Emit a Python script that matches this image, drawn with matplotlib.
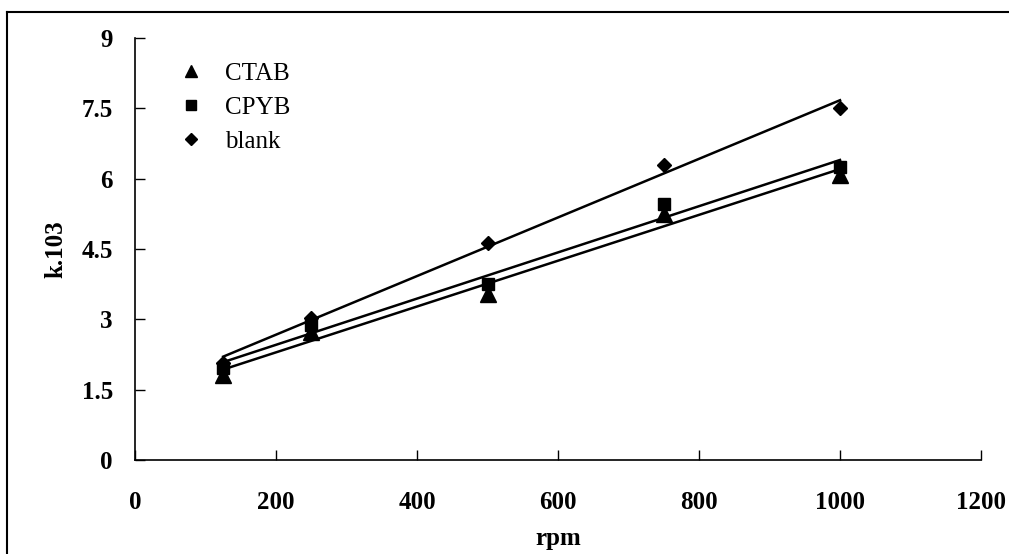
import numpy as np
import matplotlib
matplotlib.use("Agg")
import matplotlib.pyplot as plt
from matplotlib.lines import Line2D

rpm = [125, 250, 500, 750, 1000]
ctab = [1.82, 2.72, 3.55, 5.25, 6.08]
cpyb = [1.96, 2.88, 3.75, 5.45, 6.25]
blank = [2.07, 3.03, 4.62, 6.30, 7.50]

series = [("CTAB", ctab, "^", 11), ("CPYB", cpyb, "s", 8.5), ("blank", blank, "D", 7.5)]

xticks = [0, 200, 400, 600, 800, 1000, 1200]
yticks = [0, 1.5, 3, 4.5, 6, 7.5, 9]
ytick_labels = ["0", "1.5", "3", "4.5", "6", "7.5", "9"]

plt.rcParams['font.family'] = ['Liberation Serif', 'DejaVu Serif']

fig = plt.figure(figsize=(10.09, 5.54), dpi=100)
ax = fig.add_axes([135/1009, 1 - 460/554, (981-135)/1009, (460-38)/554])

x = np.array(rpm, dtype=float)
for name, ys, m, ms in series:
    ax.plot(rpm, ys, linestyle='none', marker=m, markersize=ms, color='black',
            label=name, clip_on=False)
    k, b = np.polyfit(x, np.array(ys), 1)
    xs = np.array([x.min(), x.max()])
    ax.plot(xs, k * xs + b, color='black', linewidth=1.8)

ax.set_xlim(0, 1200)
ax.set_ylim(0, 9)
ax.set_xticks(xticks)
ax.set_yticks(yticks)
ax.set_yticklabels(ytick_labels)
for s in ['top', 'right']:
    ax.spines[s].set_visible(False)
for s in ['left', 'bottom']:
    ax.spines[s].set_linewidth(1.2)
ax.tick_params(direction='in', length=7, width=1, labelsize=18)
ax.tick_params(axis='y', pad=16)
ax.tick_params(axis='x', pad=22)
for lbl in ax.get_xticklabels() + ax.get_yticklabels():
    lbl.set_fontweight('bold')

ax.set_xlabel('rpm', fontsize=18, fontweight='bold', labelpad=10)
ax.set_ylabel('k.103', fontsize=18, fontweight='bold', labelpad=10)

leg = ax.legend(loc='upper left', bbox_to_anchor=(0.022, 0.995), frameon=False,
                fontsize=18, handletextpad=0.75, labelspacing=0.45, handlelength=1.2,
                markerscale=0.85)

fig.add_artist(Line2D([7/1009, 7/1009], [0, 1 - 12/554], transform=fig.transFigure,
                      color='black', linewidth=1.5))
fig.add_artist(Line2D([7/1009, 1], [1 - 12/554, 1 - 12/554], transform=fig.transFigure,
                      color='black', linewidth=1.5))

fig.savefig('out.png', dpi=100)
